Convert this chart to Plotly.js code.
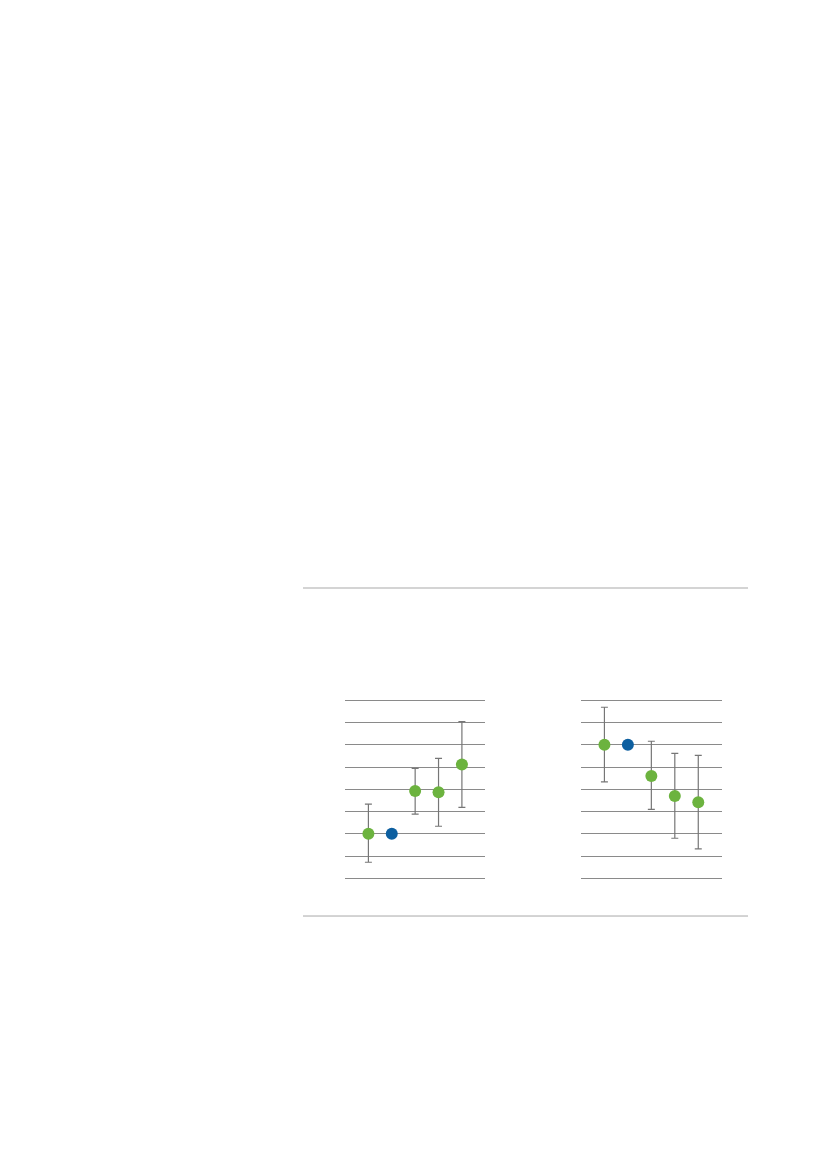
<!DOCTYPE html>
<html>
<head>
<meta charset="utf-8">
<script src="https://cdn.plot.ly/plotly-3.0.1.min.js"></script>
<style>
  html, body { margin: 0; padding: 0; background: #fff; }
  #chart { width: 827px; height: 1169px; }
</style>
</head>
<body>
<div id="chart"></div>
<script>
// category positions (no labels are printed in the original)
var groups = [1, 2, 3, 4, 5];

// left panel
var leftValue = [2.0, 2.0, 3.92, 3.87, 5.12];
var leftHigh  = [3.33, null, 4.94, 5.39, 7.04];
var leftLow   = [0.72, null, 2.88, 2.34, 3.19];

// right panel
var rightValue = [6.0, 6.0, 4.6, 3.7, 3.42];
var rightHigh  = [7.69, null, 6.16, 5.62, 5.53];
var rightLow   = [4.33, null, 3.10, 1.80, 1.32];

// second point of each panel is the reference (blue, no error bar)
var pointColors = ['#6cb33f', '#0d5fa0', '#6cb33f', '#6cb33f', '#6cb33f'];

function plus(v, hi) { return v.map(function (d, i) { return hi[i] == null ? 0 : hi[i] - d; }); }
function minus(v, lo) { return v.map(function (d, i) { return lo[i] == null ? 0 : d - lo[i]; }); }

function panel(values, high, low, xa, ya) {
  return {
    x: groups,
    y: values,
    xaxis: xa,
    yaxis: ya,
    type: 'scatter',
    mode: 'markers',
    marker: { color: pointColors, size: 12 },
    error_y: {
      type: 'data',
      symmetric: false,
      array: plus(values, high),
      arrayminus: minus(values, low),
      color: '#767676',
      thickness: 1.2,
      width: 3.5
    },
    hoverinfo: 'y',
    showlegend: false
  };
}

// range padded past 0 and 8 (domain padded to match) so the outer grid lines are drawn
var yBase = {
  range: [-0.1, 8.1],
  dtick: 1,
  showgrid: true,
  gridcolor: '#8a8a8a',
  gridwidth: 1,
  zeroline: false,
  showline: false,
  showticklabels: false,
  ticks: ''
};
var xBase = {
  range: [0, 6],
  showgrid: false,
  zeroline: false,
  showline: false,
  showticklabels: false,
  ticks: ''
};

layout = {
  width: 827,
  height: 1169,
  margin: { l: 0, r: 0, t: 0, b: 0 },
  paper_bgcolor: '#fff',
  plot_bgcolor: 'rgba(0,0,0,0)',
  xaxis: Object.assign({}, xBase, { domain: [0.4172, 0.5868], anchor: 'y' }),
  yaxis: Object.assign({}, yBase, { domain: [0.2468, 0.4028], anchor: 'x' }),
  xaxis2: Object.assign({}, xBase, { domain: [0.7025, 0.8727], anchor: 'y2' }),
  yaxis2: Object.assign({}, yBase, { domain: [0.2468, 0.4028], anchor: 'x2' }),
  shapes: [
    { type: 'line', xref: 'paper', yref: 'paper', x0: 0.3664, x1: 0.9045, y0: 0.4970, y1: 0.4970,
      line: { color: '#a9a9a9', width: 1 } },
    { type: 'line', xref: 'paper', yref: 'paper', x0: 0.3664, x1: 0.9045, y0: 0.2164, y1: 0.2164,
      line: { color: '#a9a9a9', width: 1 } }
  ]
};

Plotly.newPlot(document.getElementById('chart'), [
  panel(leftValue, leftHigh, leftLow, 'x', 'y'),
  panel(rightValue, rightHigh, rightLow, 'x2', 'y2')
], layout, { displayModeBar: false, staticPlot: true });
</script>
</body>
</html>
